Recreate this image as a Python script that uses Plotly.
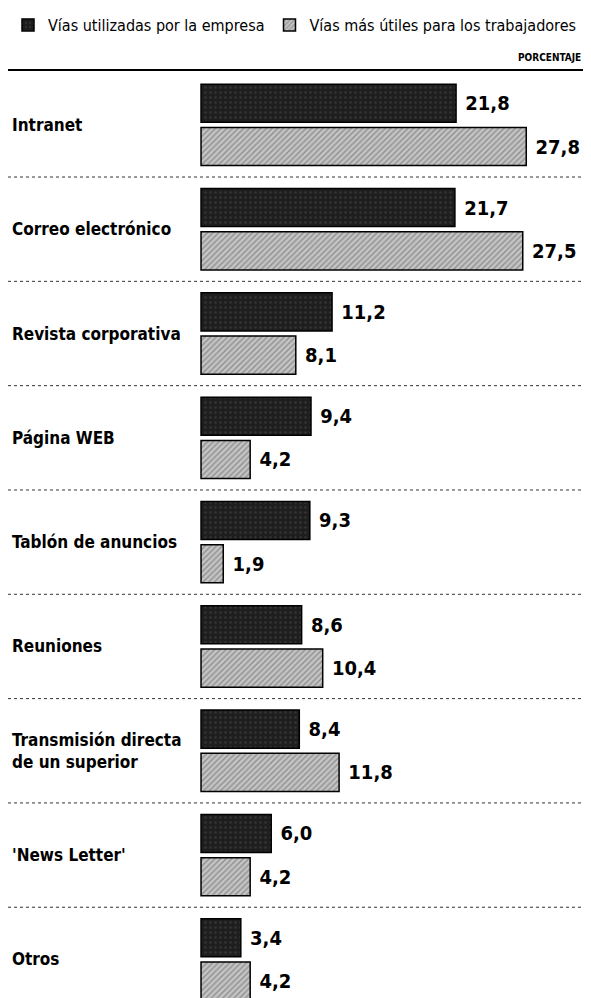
import plotly.graph_objects as go

# --- data ---
categorias = ["Intranet", "Correo electrónico", "Revista corporativa", "Página WEB",
              "Tablón de anuncios", "Reuniones", "Transmisión directa<br>de un superior",
              "'News Letter'", "Otros"]
usadas_empresa = [21.8, 21.7, 11.2, 9.4, 9.3, 8.6, 8.4, 6.0, 3.4]
utiles_trabajadores = [27.8, 27.5, 8.1, 4.2, 1.9, 10.4, 11.8, 4.2, 4.2]
serie_empresa = "Vías utilizadas por la empresa"
serie_trabajadores = "Vías más útiles para los trabajadores"

FONT_COND = "DejaVu Sans Condensed, Liberation Sans Narrow, sans-serif"

fig = go.Figure()

fig.add_trace(go.Bar(
    y=categorias, x=usadas_empresa, orientation="h", name=serie_empresa,
    marker=dict(color="#1e1e1e", line=dict(color="#000", width=1.5),
                pattern=dict(shape=".", bgcolor="#1e1e1e", fgcolor="#4a4a4a", size=5, solidity=0.2)),
    texttemplate=" %{x:.1f}", textposition="outside",
    textfont=dict(family=FONT_COND, size=20, color="#000", weight="bold"),
    cliponaxis=False,
))
fig.add_trace(go.Bar(
    y=categorias, x=utiles_trabajadores, orientation="h", name=serie_trabajadores,
    marker=dict(color="#b0b0b0", line=dict(color="#000", width=1.5),
                pattern=dict(shape="/", bgcolor="#c4c4c4", fgcolor="#5a5a5a", size=4, solidity=0.35)),
    texttemplate=" %{x:.1f}", textposition="outside",
    textfont=dict(family=FONT_COND, size=20, color="#000", weight="bold"),
    cliponaxis=False,
))

# category labels at the left edge
for c in categorias:
    fig.add_annotation(x=0.003, xref="paper", y=c, yref="y", text=c, showarrow=False,
                       xanchor="left", align="left",
                       font=dict(family=FONT_COND, size=17, color="#000", weight="bold"))

# dotted separators between groups, solid top rule
shapes = [dict(type="line", xref="paper", yref="paper", x0=0, x1=1, y0=1, y1=1,
               line=dict(color="#000", width=2))]
for i in range(len(categorias) - 1):
    shapes.append(dict(type="line", xref="paper", yref="y", x0=0, x1=1, y0=i + 0.5, y1=i + 0.5,
                       line=dict(color="#333", width=1, dash="dot")))

fig.add_annotation(x=1, xref="paper", y=1, yref="paper", yanchor="bottom", xanchor="right",
                   yshift=5, text="PORCENTAJE", showarrow=False,
                   font=dict(family=FONT_COND, size=10, color="#000", weight="bold"))

# page body keeps an 8px margin, so the figure is narrower than the window
fig.update_layout(
    width=575, height=990,
    margin=dict(l=0, r=0, t=62, b=0),
    paper_bgcolor="white", plot_bgcolor="white",
    barmode="group", bargap=0.17, bargroupgap=0.12,
    separators=",.",
    shapes=shapes,
    showlegend=True,
    legend=dict(orientation="h", xref="container", yref="container", x=0, y=1.0,
                xanchor="left", yanchor="top", traceorder="normal",
                font=dict(family=FONT_COND, size=16, color="#000"),
                itemwidth=30),
    xaxis=dict(range=[-16.5, 32.65], visible=False, fixedrange=True),
    yaxis=dict(categoryorder="array", categoryarray=categorias, range=[8.37, -0.526],
               visible=False),
)

fig.write_html("out.html")
